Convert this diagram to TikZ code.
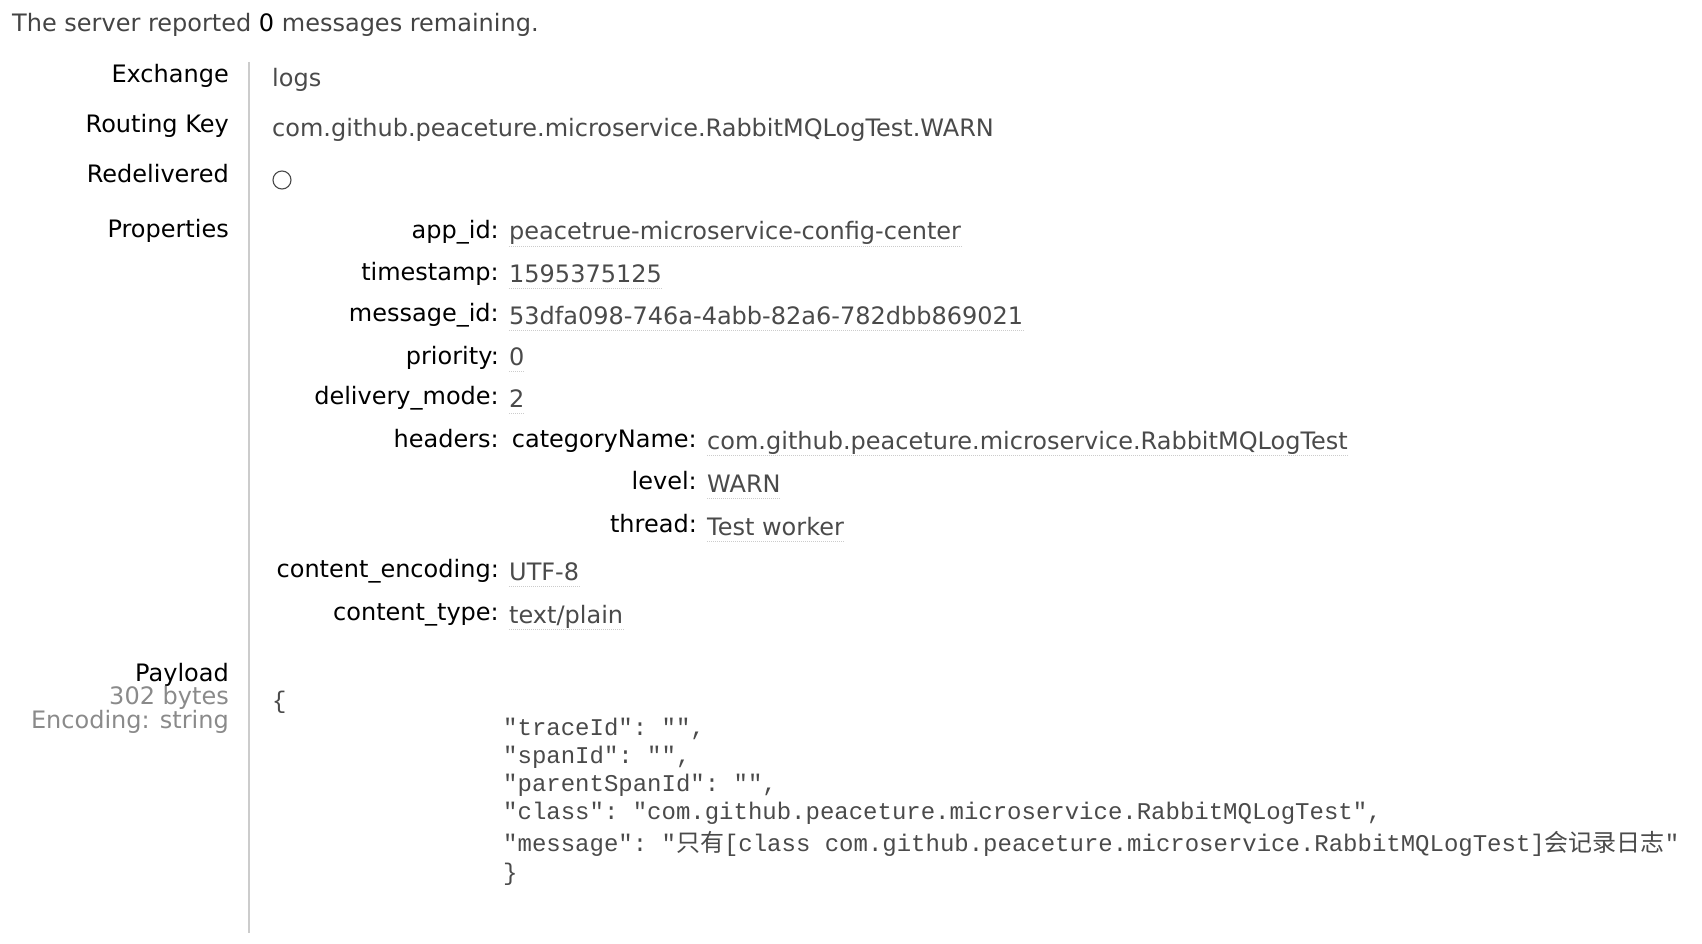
\documentclass[tikz,border=0pt]{standalone}
\usepackage{fontspec}
\setmainfont{DejaVu Sans}
\setmonofont{Liberation Mono}
\newfontfamily\cjk{Noto Sans CJK SC}
\definecolor{txtgray}{HTML}{444444}
\definecolor{valgray}{HTML}{4A4A4A}
\definecolor{subgray}{HTML}{8A8A8A}
\definecolor{rulegray}{HTML}{CCCCCC}
\newcommand{\ui}{\fontsize{24}{28}\selectfont}
\newcommand{\jsonfont}{\ttfamily\fontsize{24}{28}\selectfont}
\tikzset{
  lbl/.style={anchor=base east, inner sep=0pt, font=\ui, text=black},
  key/.style={anchor=base east, inner sep=0pt, font=\ui, text=black},
  val/.style={anchor=base west, inner sep=0pt, font=\ui, text=valgray},
  json/.style={anchor=base west, inner sep=0pt, font=\jsonfont, text=valgray},
  uline/.style={draw=rulegray, densely dotted, line width=1pt}
}
\begin{document}
\begin{tikzpicture}[x=1pt,y=-1pt]
\useasboundingbox (0,0) rectangle (1702,944);

\node[anchor=base west, inner sep=0pt, font=\ui, text=txtgray] (hdr) at (12,32)
  {The server reported \textcolor{black}{0} messages remaining.}; % строка сверху

% левая колонка
\node[lbl] (exch) at (229,83) {Exchange};
\node[lbl] (rkey) at (229,133) {Routing Key};
\node[lbl] (redel) at (229,183) {Redelivered};
\node[lbl] (props) at (229,237) {Properties};
\node[lbl] (pay) at (229,681) {Payload};
\node[lbl, text=subgray] (bytes) at (229,704) {302 bytes};
\node[lbl, text=subgray] (enc) at (229,728) {Encoding: string};

% разделитель
\coordinate (rtop) at (249,62);
\coordinate (rbot) at (249,933);
\draw[rulegray, line width=2pt] (rtop) -- (rbot);

% значения
\node[val] (logs) at (272,87) {logs};
\node[val] (rval) at (272,137) {com.github.peaceture.microservice.RabbitMQLogTest.WARN};
\node[draw=valgray, circle, minimum size=18pt, inner sep=0pt, line width=1.1pt] (redv) at (282,180) {};

% свойства
\node[key] (kapp) at (499,238.5) {app\_id:};
\node[key] (kts) at (499,280) {timestamp:};
\node[key] (kmid) at (499,321.5) {message\_id:};
\node[key] (kpri) at (499,364) {priority:};
\node[key] (kdel) at (499,404.5) {delivery\_mode:};
\node[key] (khdr) at (499,447) {headers:};
\node[key] (kce) at (499,577.5) {content\_encoding:};
\node[key] (kct) at (499,620) {content\_type:};

\node[val] (vapp) at (509,240) {peacetrue-microservice-config-center};
\node[val] (vts) at (509,282.5) {1595375125};
\node[val] (vmid) at (509,324) {53dfa098-746a-4abb-82a6-782dbb869021};
\node[val] (vpri) at (509,365.5) {0};
\node[val] (vdel) at (509,407) {2};
\node[val] (vce) at (509,580) {UTF-8};
\node[val] (vct) at (509,623) {text/plain};

% headers
\node[key] (kcat) at (697,447) {categoryName:};
\node[key] (klev) at (697,489.5) {level:};
\node[key] (kthr) at (697,532) {thread:};
\node[val] (vcat) at (707,449.5) {com.github.peaceture.microservice.RabbitMQLogTest};
\node[val] (vlev) at (707,492) {WARN};
\node[val] (vthr) at (707,535) {Test worker};

% пунктир под значениями
\draw[uline] ([yshift=-6pt]vapp.base west) -- ([yshift=-6pt]vapp.base east);
\draw[uline] ([yshift=-6pt]vts.base west) -- ([yshift=-6pt]vts.base east);
\draw[uline] ([yshift=-6pt]vmid.base west) -- ([yshift=-6pt]vmid.base east);
\draw[uline] ([yshift=-6pt]vpri.base west) -- ([yshift=-6pt]vpri.base east);
\draw[uline] ([yshift=-6pt]vdel.base west) -- ([yshift=-6pt]vdel.base east);
\draw[uline] ([yshift=-6pt]vce.base west) -- ([yshift=-6pt]vce.base east);
\draw[uline] ([yshift=-6pt]vct.base west) -- ([yshift=-6pt]vct.base east);
\draw[uline] ([yshift=-6pt]vcat.base west) -- ([yshift=-6pt]vcat.base east);
\draw[uline] ([yshift=-6pt]vlev.base west) -- ([yshift=-6pt]vlev.base east);
\draw[uline] ([yshift=-6pt]vthr.base west) -- ([yshift=-6pt]vthr.base east);

% payload
\node[json] (jopen) at (272,708) {\{};
\node[json] (jtr) at (503,735.5) {"traceId": "",};
\node[json] (jsp) at (503,763.5) {"spanId": "",};
\node[json] (jpar) at (503,791.5) {"parentSpanId": "",};
\node[json] (jcls) at (503,819.5) {"class": "com.github.peaceture.microservice.RabbitMQLogTest",};
\node[json] (jmsg) at (503,851.5) {"message": "{\cjk 只有}[class com.github.peaceture.microservice.RabbitMQLogTest]{\cjk 会记录日志}"};
\node[json] (jclose) at (503,880.5) {\}};

\end{tikzpicture}
\end{document}
